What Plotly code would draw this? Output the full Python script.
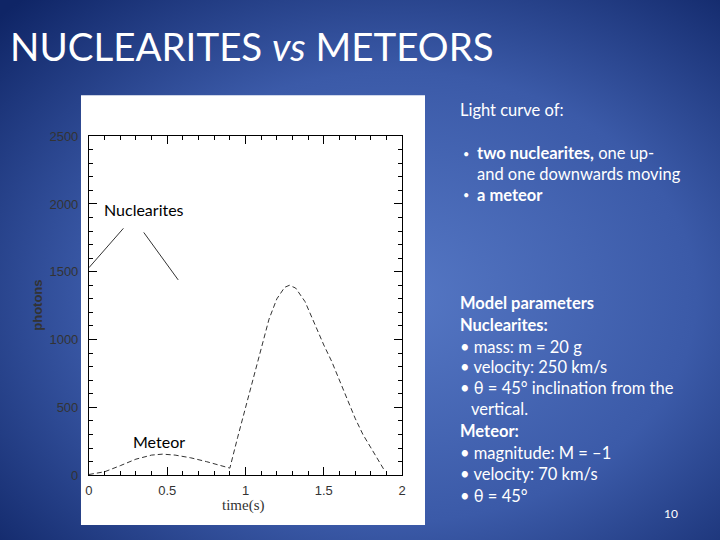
import base64
import plotly.graph_objects as go

# light curves
nuc_up_t = [0.0, 0.05, 0.10, 0.15, 0.22]
nuc_up_ph = [1530, 1595, 1660, 1730, 1820]

nuc_down_t = [0.35, 0.42, 0.50, 0.57]
nuc_down_ph = [1790, 1680, 1550, 1440]

meteor_t = [0.0, 0.1, 0.2, 0.3, 0.4, 0.47, 0.55, 0.65, 0.75, 0.9,
            0.95, 1.0, 1.05, 1.1, 1.15, 1.2, 1.25, 1.28, 1.32, 1.38,
            1.45, 1.5, 1.55, 1.6, 1.65, 1.7, 1.75, 1.8, 1.85, 1.89]
meteor_ph = [5, 25, 70, 118, 148, 155, 148, 128, 100, 52,
             280, 500, 730, 950, 1150, 1300, 1385, 1400, 1380, 1280,
             1090, 960, 840, 700, 560, 420, 300, 200, 110, 30]

W, H = 720, 540


# slide pixel -> paper fraction (small correction for how the page gets captured)
def px(x):
    return (x - 2.8) / 0.9917 / W


def py(y):
    return 1 - (y - 6.5) / 0.975 / H


svg = f"""<svg xmlns='http://www.w3.org/2000/svg' width='{W}' height='{H}'>
<defs><radialGradient id='g' cx='0.55' cy='0.55' r='0.75'>
<stop offset='0' stop-color='#5577c4'/>
<stop offset='0.55' stop-color='#3b5aa8'/>
<stop offset='1' stop-color='#0f2566'/>
</radialGradient></defs>
<rect width='{W}' height='{H}' fill='url(#g)'/></svg>"""
bg_src = "data:image/svg+xml;base64," + base64.b64encode(svg.encode()).decode()

fig = go.Figure()

line_col = "#333333"
fig.add_trace(go.Scatter(x=nuc_up_t, y=nuc_up_ph, mode="lines",
                         line=dict(color=line_col, width=1), showlegend=False))
fig.add_trace(go.Scatter(x=nuc_down_t, y=nuc_down_ph, mode="lines",
                         line=dict(color=line_col, width=1), showlegend=False))
fig.add_trace(go.Scatter(x=meteor_t, y=meteor_ph, mode="lines",
                         line=dict(color=line_col, width=1, dash="5px,3px"),
                         showlegend=False))

tickfont = dict(family="Liberation Sans", size=13, color="#333333")
fig.update_xaxes(
    domain=[px(88), px(402)], range=[0, 2],
    tickvals=[0, 0.5, 1, 1.5, 2], ticktext=["0", "0.5", "1", "1.5", "2"],
    ticks="inside", ticklen=8, tickcolor="black",
    minor=dict(dtick=0.1, ticks="inside", ticklen=4, tickcolor="black"),
    showline=True, linecolor="black", linewidth=1, mirror="ticks",
    showgrid=False, zeroline=False, tickfont=tickfont, ticklabelstandoff=3,
)
fig.update_yaxes(
    domain=[py(476), py(136)], range=[0, 2500],
    tickvals=[0, 500, 1000, 1500, 2000, 2500],
    ticks="inside", ticklen=8, tickcolor="black",
    minor=dict(dtick=100, ticks="inside", ticklen=4, tickcolor="black"),
    showline=True, linecolor="black", linewidth=1, mirror="ticks",
    showgrid=False, zeroline=False, tickfont=tickfont, ticklabelstandoff=7,
)

body = dict(family="Lato", size=16.5, color="white")
bullet = dict(family="Lato", size=11, color="white")
annots = [
    dict(x=px(7), y=py(46), text="NUCLEARITES <i>vs</i> METEORS",
         font=dict(family="Lato", size=38.5, color="white")),
    dict(x=px(101), y=py(210), text="Nuclearites",
         font=dict(family="Lato", size=16, color="black")),
    dict(x=px(130), y=py(442), text="Meteor",
         font=dict(family="Lato", size=16, color="black")),
    dict(x=px(458), y=py(110), text="Light curve of:", font=body),
    dict(x=px(461), y=py(153), text="•", font=bullet),
    dict(x=px(475), y=py(153), text="<b>two nuclearites,</b> one up-", font=body),
    dict(x=px(475), y=py(174), text="and one downwards moving", font=body),
    dict(x=px(461), y=py(195), text="•", font=bullet),
    dict(x=px(475), y=py(195), text="<b>a meteor</b>", font=body),
    dict(x=px(458), y=py(303), text="<b>Model parameters</b>", font=body),
    dict(x=px(458), y=py(325), text="<b>Nuclearites:</b>", font=body),
    dict(x=px(458), y=py(347), text="• mass: m = 20 g", font=body),
    dict(x=px(458), y=py(368), text="• velocity: 250 km/s", font=body),
    dict(x=px(458), y=py(389), text="• θ = 45° inclination from the", font=body),
    dict(x=px(469), y=py(410), text="vertical.", font=body),
    dict(x=px(458), y=py(432), text="<b>Meteor:</b>", font=body),
    dict(x=px(458), y=py(454), text="• magnitude: M = \u20131", font=body),
    dict(x=px(458), y=py(475), text="• velocity: 70 km/s", font=body),
    dict(x=px(458), y=py(497), text="• θ = 45°", font=body),
    dict(x=px(663), y=py(514), text="10",
         font=dict(family="Lato", size=12, color="white")),
]
for a in annots:
    fig.add_annotation(xref="paper", yref="paper", xanchor="left",
                       yanchor="middle", showarrow=False, **a)

fig.add_annotation(xref="paper", yref="paper", x=px(37), y=py(306),
                   xanchor="center", yanchor="middle",
                   text="<b>photons</b>", textangle=-90, showarrow=False,
                   font=dict(family="Liberation Sans", size=13, color="#333333"))
fig.add_annotation(xref="paper", yref="paper", x=px(243), y=py(506),
                   xanchor="center", yanchor="middle",
                   text="time(s)", showarrow=False,
                   font=dict(family="Liberation Serif", size=15, color="#333333"))

# white panel holding the original figure
fig.add_shape(type="rect", xref="paper", yref="paper",
              x0=px(80), x1=px(425), y0=py(526), y1=py(95),
              fillcolor="white", line_width=0, layer="below")

fig.add_layout_image(source=bg_src, xref="paper", yref="paper",
                     x=-0.01, y=1.02, sizex=1.02, sizey=1.04, sizing="stretch",
                     xanchor="left", yanchor="top", layer="below")

fig.update_layout(
    width=W, height=H,
    margin=dict(l=0, r=0, t=0, b=0),
    paper_bgcolor="#1a3070",
    plot_bgcolor="rgba(0,0,0,0)",
)

fig.write_html("out.html", config={"displayModeBar": False},
               post_script="document.body.style.margin='0';"
                           "document.body.style.overflow='hidden';")
